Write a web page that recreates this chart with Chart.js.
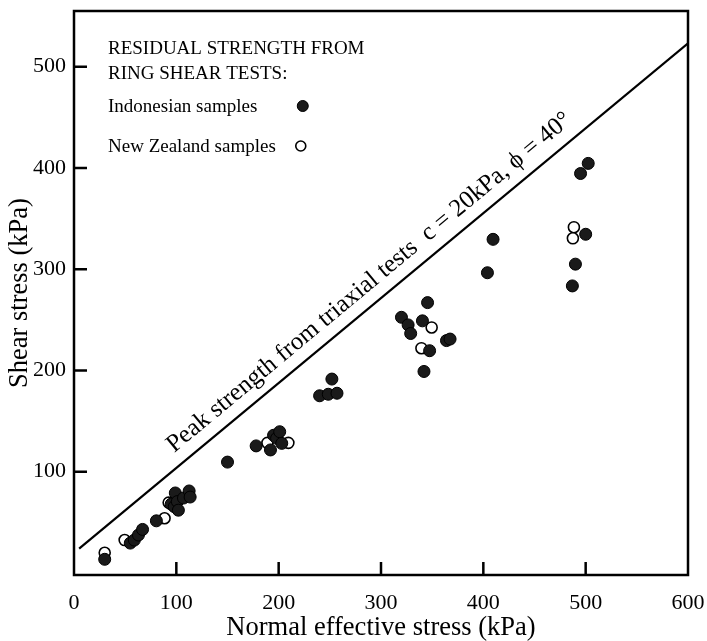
<!DOCTYPE html>
<html>
<head>
<meta charset="utf-8">
<script src="https://cdn.jsdelivr.net/npm/chart.js@4.4.0/dist/chart.umd.min.js"></script>
<style>
html,body{margin:0;padding:0;background:#fff;}
</style>
</head>
<body>
<canvas id="chart" width="707" height="641"></canvas>
<script>
// axis ticks
const xTicks=[0,100,200,300,400,500,600];
const yTicks=[100,200,300,400,500];

// residual strength, ring shear tests (kPa)
const indoX=[30,55,59,63,67,80.5,95,98,99,101,102,107,112.5,113.5,150,178,192,195,198,201,203,240,248.5,257,252,320,326.5,329,340.5,345.5,347.5,342,364,367.5,404,409.5,487,490,500,495,502.5];
const indoY=[13.5,29.5,32.5,37.5,43,51.5,68,65.5,79,70.5,62,74,81,75,109.5,125.5,121.5,136,133,139.5,128,175,176.5,177.5,191.5,252.5,245,236.5,249,267,219.5,199,229.5,231,296.5,329.5,283.5,305,334.5,394.5,404.5];
const nzX=[30,49.5,88.5,92.5,189,209.5,349.5,339.5,488.5,487.5];
const nzY=[20,32.5,54,69.5,128.5,128.5,242.5,222,341.5,330.5];

// peak strength envelope from triaxial tests (end points)
const peakX=[5,600];
const peakY=[24,523];

const seriesNames=['Indonesian samples','New Zealand samples'];
const boxTitle=['RESIDUAL STRENGTH FROM','RING SHEAR TESTS:'];
const lineLabel='Peak strength from triaxial tests  c = 20kPa, \u03d5 = 40\u00b0';

const serif='"Liberation Serif", "Times New Roman", serif';
const pts=(xs,ys)=>xs.map((x,i)=>({x:x,y:ys[i]}));
const noPad=s=>{s.paddingTop=0;s.paddingBottom=0;s.paddingLeft=0;s.paddingRight=0;};

const extras={
  id:'extras',
  afterDraw(chart){
    const ctx=chart.ctx, a=chart.chartArea;
    const sx=chart.scales.x, sy=chart.scales.y;
    ctx.save();
    ctx.strokeStyle='#000';
    ctx.lineWidth=2.5;
    ctx.strokeRect(a.left,a.top,a.right-a.left,a.bottom-a.top);
    // inward tick marks
    ctx.beginPath();
    yTicks.forEach(v=>{const p=sy.getPixelForValue(v);ctx.moveTo(a.left,p);ctx.lineTo(a.left+13,p);});
    xTicks.slice(1,-1).forEach(v=>{const p=sx.getPixelForValue(v);ctx.moveTo(p,a.bottom);ctx.lineTo(p,a.bottom-13);});
    ctx.stroke();

    // legend block
    ctx.fillStyle='#000';
    ctx.font='19px '+serif;
    ctx.textBaseline='alphabetic';
    const lx=a.left+34;
    ctx.fillText(boxTitle[0],lx,a.top+43);
    ctx.fillText(boxTitle[1],lx,a.top+68);
    ctx.fillText(seriesNames[0],lx,a.top+101);
    ctx.fillText(seriesNames[1],lx,a.top+141);
    const mx=lx+ctx.measureText(seriesNames[1]).width+25;
    ctx.beginPath();ctx.arc(mx+2,a.top+95,5.5,0,Math.PI*2);
    ctx.fillStyle='#1a1a1a';ctx.fill();ctx.lineWidth=1;ctx.stroke();
    ctx.beginPath();ctx.arc(mx,a.top+135,5,0,Math.PI*2);
    ctx.fillStyle='#fff';ctx.fill();ctx.lineWidth=1.6;ctx.stroke();

    // label along the envelope
    const x0=sx.getPixelForValue(peakX[0]),y0=sy.getPixelForValue(peakY[0]);
    const x1=sx.getPixelForValue(peakX[1]),y1=sy.getPixelForValue(peakY[1]);
    const ang=Math.atan2(y1-y0,x1-x0);
    const t=(106-peakX[0])/(peakX[1]-peakX[0]);
    ctx.translate(x0+(x1-x0)*t,y0+(y1-y0)*t);
    ctx.rotate(ang);
    ctx.fillStyle='#000';
    ctx.font='25px '+serif;
    ctx.fillText(lineLabel,0,-13);
    ctx.restore();
  }
};

new Chart(document.getElementById('chart'),{
  type:'scatter',
  data:{
    datasets:[
      {label:seriesNames[0],data:pts(indoX,indoY),pointRadius:6,backgroundColor:'#1a1a1a',borderColor:'#000',borderWidth:1},
      {label:seriesNames[1],data:pts(nzX,nzY),pointRadius:5.5,backgroundColor:'#fff',borderColor:'#000',borderWidth:1.6},
      {label:'Peak strength',data:pts(peakX,peakY),showLine:true,pointRadius:0,borderColor:'#000',borderWidth:2.2,fill:false}
    ]
  },
  options:{
    responsive:false,
    animation:false,
    layout:{padding:{top:11,right:19,left:0,bottom:0}},
    plugins:{legend:{display:false},tooltip:{enabled:false}},
    scales:{
      x:{
        type:'linear',min:0,max:600,
        afterBuildTicks:s=>{s.ticks=xTicks.map(v=>({value:v}));},
        afterFit:s=>{s.height=66;noPad(s);},
        grid:{display:false,drawTicks:false},
        border:{display:false},
        ticks:{color:'#000',padding:15,maxRotation:0,font:{family:serif,size:22}},
        title:{display:true,text:'Normal effective stress (kPa)',color:'#000',padding:{top:0,bottom:0},font:{family:serif,size:26.5,lineHeight:1.0}}
      },
      y:{
        type:'linear',min:-2,max:555,
        afterBuildTicks:s=>{s.ticks=yTicks.map(v=>({value:v}));},
        afterFit:s=>{s.width=74;noPad(s);},
        grid:{display:false,drawTicks:false},
        border:{display:false},
        ticks:{color:'#000',padding:8,font:{family:serif,size:22}},
        title:{display:true,text:'Shear stress (kPa)',color:'#000',padding:{top:4,bottom:0},font:{family:serif,size:26.5}}
      }
    }
  },
  plugins:[extras]
});
</script>
</body>
</html>
